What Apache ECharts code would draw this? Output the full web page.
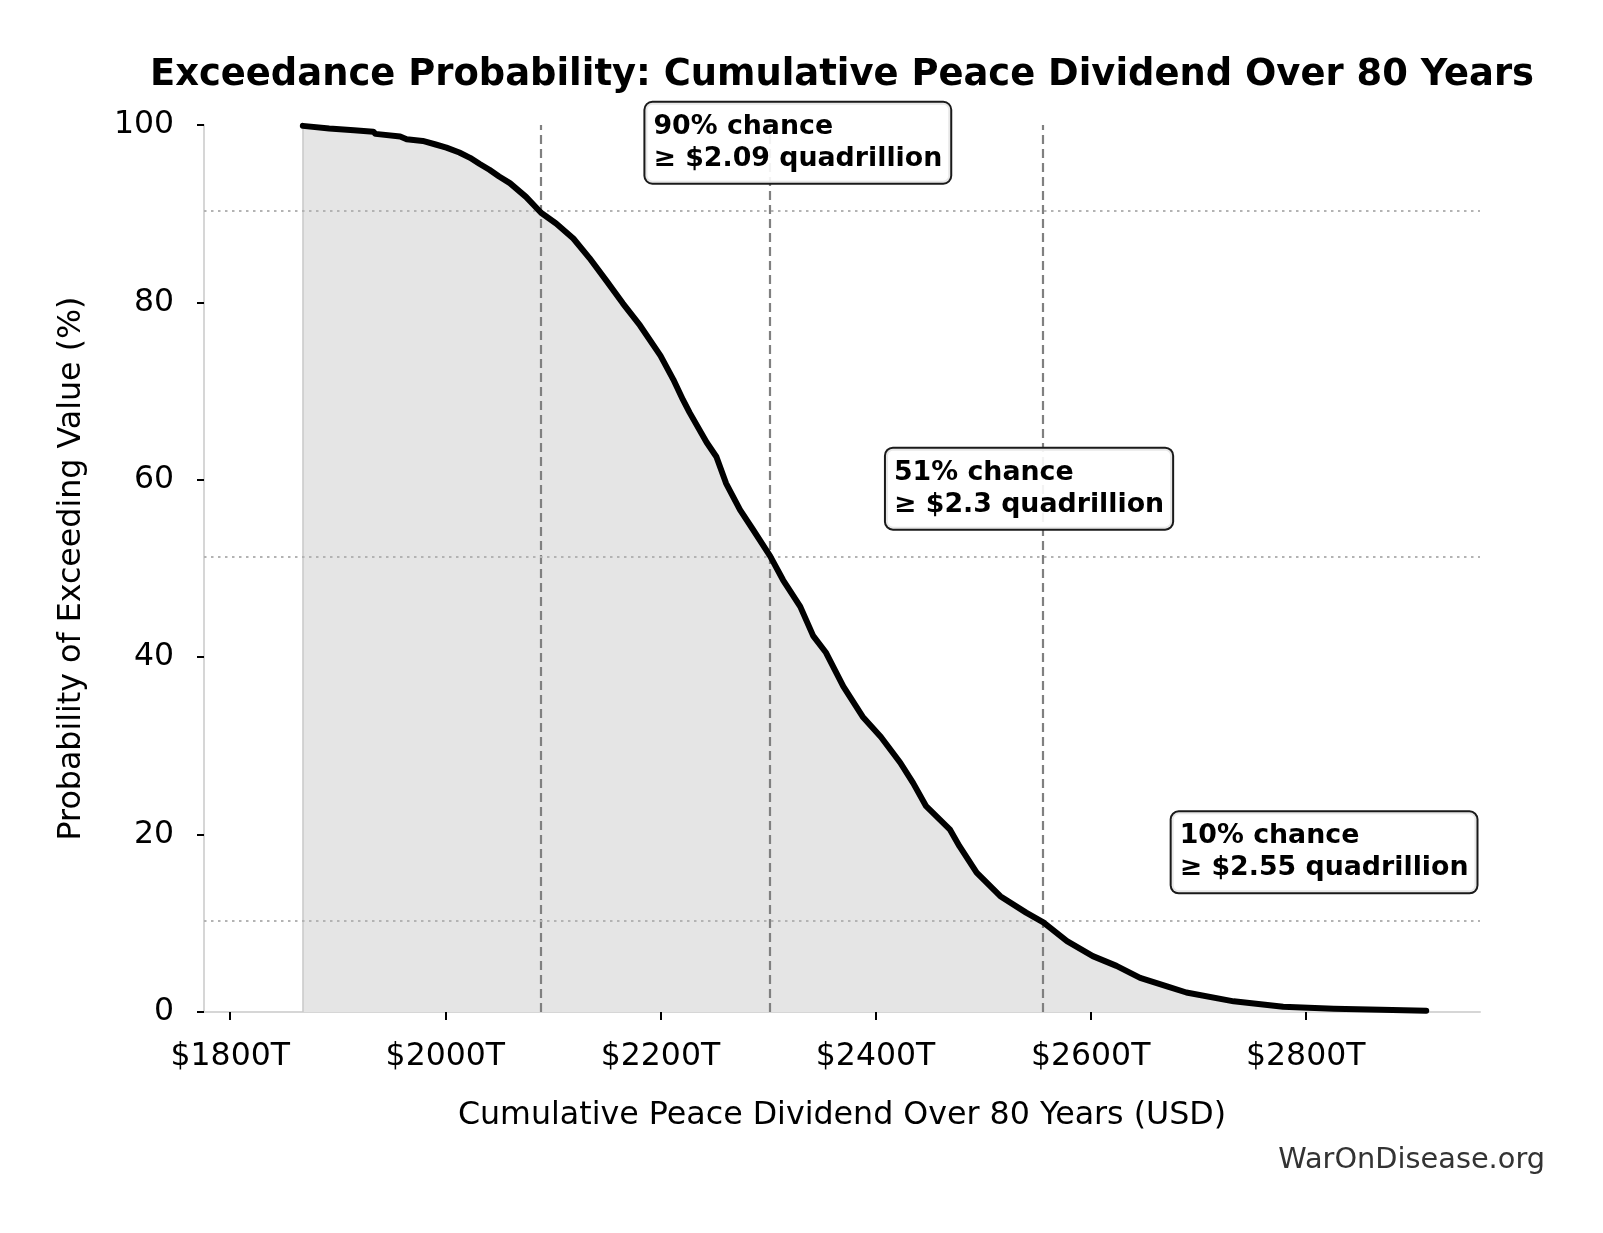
<!DOCTYPE html>
<html>
<head>
<meta charset="utf-8">
<title>Exceedance Probability</title>
<script src="https://cdn.jsdelivr.net/npm/echarts@6/dist/echarts.min.js"></script>
<style>
  html, body { margin: 0; padding: 0; background: #fff; }
  #chart { width: 1603px; height: 1233px; }
</style>
</head>
<body>
<div id="chart"></div>
<script>
// cumulative peace dividend (trillion USD) and chance of exceeding it (%)
const dividendT = [
  1867.5, 1892, 1915, 1933, 1935, 1958, 1964, 1979, 1991, 2001,
  2013, 2023, 2032, 2041, 2050, 2060, 2075, 2089, 2103, 2119,
  2134, 2150, 2165, 2181, 2200, 2212, 2221, 2227, 2243, 2252,
  2261, 2274, 2286, 2302, 2314, 2330, 2342, 2354, 2370, 2388,
  2405, 2423, 2435, 2447, 2469, 2478, 2494, 2516, 2540, 2556,
  2578, 2602, 2624, 2646, 2671, 2689, 2733, 2779, 2826, 2870, 2912
];
const exceedPct = [
  99.9, 99.6, 99.4, 99.25, 99.0, 98.7, 98.4, 98.2, 97.8, 97.45,
  96.9, 96.3, 95.6, 94.95, 94.2, 93.45, 91.9, 90.1, 88.9, 87.2,
  85.0, 82.4, 79.9, 77.4, 74.0, 71.3, 69.0, 67.6, 64.2, 62.6,
  59.6, 56.6, 54.4, 51.4, 48.7, 45.7, 42.4, 40.5, 36.7, 33.3,
  31.0, 28.1, 25.8, 23.2, 20.6, 18.7, 15.7, 13.05, 11.2, 10.1,
  8.0, 6.3, 5.2, 3.85, 2.9, 2.2, 1.2, 0.6, 0.36, 0.25, 0.15
];

// percentile markers
const markerValues = [2089, 2302, 2555];
const markerProbs = [90.3, 51.3, 10.3];
const markerChance = [90, 51, 10];
const markerQuad = ['2.09', '2.3', '2.55'];

const xTicks = [1800, 2000, 2200, 2400, 2600, 2800];

const FONT = 'DejaVu Sans';
const curve = dividendT.map((x, i) => [x, exceedPct[i]]);

const chart = echarts.init(document.getElementById('chart'));

chart.setOption({
  animation: false,
  title: [{
    text: 'Exceedance Probability: Cumulative Peace Dividend Over 80 Years',
    left: 842,
    top: 57,
    padding: 0,
    textAlign: 'center',
    textStyle: { fontFamily: FONT, fontWeight: 'bold', fontSize: 36.9, color: '#000' }
  }, {
    text: 'WarOnDisease.org',
    right: 58,
    top: 1146,
    padding: 0,
    textStyle: { fontFamily: FONT, fontWeight: 'normal', fontSize: 28.8, color: '#333' }
  }],
  grid: { left: 204, right: 123, top: 125, bottom: 221 },
  xAxis: {
    type: 'value',
    min: 1775.6,
    max: 2962,
    name: 'Cumulative Peace Dividend Over 80 Years (USD)',
    nameLocation: 'middle',
    nameGap: 88,
    nameTextStyle: { fontFamily: FONT, fontSize: 31.7, color: '#000' },
    axisLine: { show: true, lineStyle: { color: '#d6d6d6', width: 2 } },
    axisTick: { show: true, length: 8, customValues: xTicks, lineStyle: { color: '#000', width: 2 } },
    axisLabel: {
      customValues: xTicks,
      margin: 29,
      fontFamily: FONT, fontSize: 31.5, color: '#000',
      formatter: v => '$' + v + 'T'
    },
    splitLine: { show: false }
  },
  yAxis: {
    type: 'value',
    min: 0,
    max: 100,
    interval: 20,
    name: 'Probability of Exceeding Value (%)',
    nameLocation: 'middle',
    nameGap: 116,
    nameTextStyle: { fontFamily: FONT, fontSize: 31.7, color: '#000' },
    axisLine: { show: true, lineStyle: { color: '#d6d6d6', width: 2 } },
    axisTick: { show: true, length: 7, lineStyle: { color: '#000', width: 2 } },
    axisLabel: { margin: 30, fontFamily: FONT, fontSize: 31.5, color: '#000' },
    splitLine: { show: false }
  },
  series: [
    {
      // shaded area under the curve + reference lines
      type: 'line',
      z: 1,
      data: curve,
      showSymbol: false,
      silent: true,
      lineStyle: { width: 0, opacity: 0 },
      areaStyle: { color: '#e5e5e5', opacity: 1 },
      markLine: {
        silent: true,
        symbol: ['none', 'none'],
        label: { show: false },
        data: [
          { xAxis: dividendT[0], lineStyle: { color: '#c8c8c8', width: 1.5, type: 'solid' } }
        ].concat(
          markerValues.map(v => ({ xAxis: v, lineStyle: { color: '#808080', width: 2.2, type: [9, 5] } })),
          markerProbs.map(p => ({ yAxis: p, lineStyle: { color: '#b3b3b3', width: 2, type: [2.5, 4.5] } }))
        )
      }
    },
    {
      type: 'line',
      z: 6,
      data: curve,
      showSymbol: false,
      silent: true,
      lineStyle: { color: '#000', width: 6, join: 'round', cap: 'round' }
    },
    {
      // annotation boxes
      type: 'scatter',
      z: 10,
      symbolSize: 0,
      silent: true,
      itemStyle: { opacity: 1 },
      data: markerValues.map((v, i) => [v * 1.05, markerChance[i] + 8]),
      label: {
        show: true,
        position: 'inside',
        align: 'left',
        verticalAlign: 'middle',
        offset: [-8, 0],
        formatter: p => markerChance[p.dataIndex] + '% chance\n\u2265 $' + markerQuad[p.dataIndex] + ' quadrillion',
        fontFamily: FONT,
        fontWeight: 'bold',
        fontSize: 26.8,
        lineHeight: 32,
        color: '#000',
        backgroundColor: 'rgba(255,255,255,0.9)',
        borderColor: '#1a1a1a',
        borderWidth: 2,
        borderRadius: 7,
        padding: [7, 8, 9, 8]
      }
    }
  ]
});
</script>
</body>
</html>
